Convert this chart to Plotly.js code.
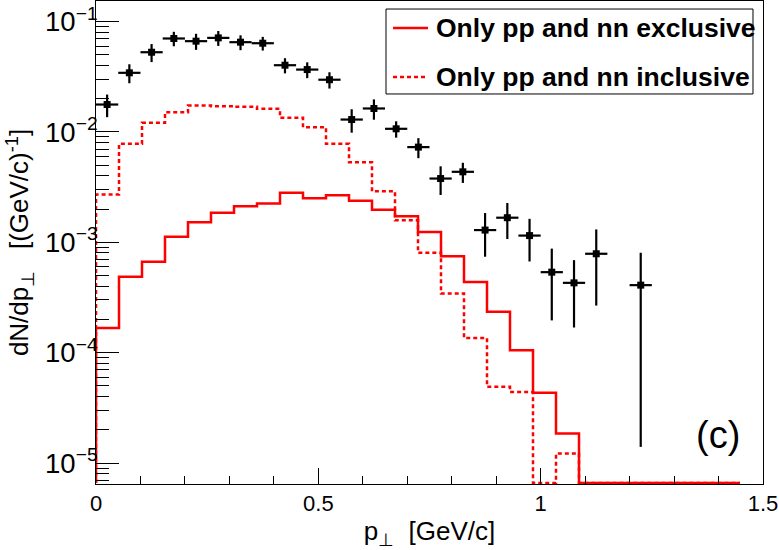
<!DOCTYPE html>
<html>
<head>
<meta charset="utf-8">
<script src="https://cdn.plot.ly/plotly-3.0.1.min.js"></script>
<style>
  body { margin: 0; background: #fff; }
  #chart { width: 779px; height: 550px; }
</style>
</head>
<body>
<div id="chart"></div>
<script>
// data points (0.05 GeV/c bins)
var ptData = [0.025, 0.075, 0.125, 0.175, 0.225, 0.275, 0.325, 0.375, 0.425, 0.475,
    0.525, 0.575, 0.625, 0.675, 0.725, 0.775, 0.825, 0.875, 0.925, 0.975,
    1.025, 1.075, 1.125, 1.225]
var dataVal = [0.0177, 0.0343, 0.0527, 0.0702, 0.0664, 0.0711, 0.0650, 0.0636, 0.0402, 0.0367,
    0.0297, 0.01294, 0.0163, 0.01067, 0.00728, 0.00378, 0.00435, 0.00129, 0.00167, 0.00115,
    0.000536, 0.000429, 0.000787, 0.000409]
var dataErr = [0.0041, 0.0067, 0.0098, 0.0105, 0.011, 0.011, 0.010, 0.009, 0.0063, 0.006,
    0.005, 0.0031, 0.0034, 0.0018, 0.0015, 0.0011, 0.0009, 0.00055, 0.0006, 0.00048,
    0.00034, 0.00026, 0.00052, 0.000395]
var ptHalfBin = 0.025

// simulation histograms: 28 drawn bins of width 1.5/29
var nBins = 28
var binWidth = 1.5 / 29
var exclusive = [0.000167, 0.000486, 0.000666, 0.00112, 0.00152, 0.00185, 0.00212, 0.00225,
    0.00281, 0.00251, 0.00267, 0.00238, 0.00197, 0.00172, 0.00124, 0.000748,
    0.000436, 0.000235, 0.000105, 0.0000433, 0.0000185, 0, 0, 0, 0, 0, 0, 0]
var inclusive = [0.00271, 0.0078, 0.01208, 0.0151, 0.01734, 0.0171, 0.01687, 0.0162,
    0.01343, 0.01104, 0.0078, 0.00532, 0.0029, 0.00158, 0.000803, 0.000344,
    0.000136, 0.000049, 0.000044, 0, 0.0000122, 0, 0, 0, 0, 0, 0, 0]

var legendNames = ['Only pp and nn exclusive', 'Only pp and nn inclusive']
var yRange = [-5.19, -0.814]

function stepTrace(vals, dash, name) {
    // empty bins sit on the frame bottom, like ROOT does on a log pad
    var floor = Math.pow(10, yRange[0] + 0.01)
    var xs = [0], ys = [floor]
    for (var i = 0; i < nBins; i++) {
        xs.push(i * binWidth)
        ys.push(vals[i] > 0 ? vals[i] : floor)
    }
    xs.push(nBins * binWidth)
    ys.push(vals[nBins - 1] > 0 ? vals[nBins - 1] : floor)
    return {
        x: xs, y: ys, type: 'scatter', mode: 'lines', name: name, showlegend: false,
        line: { shape: 'hv', color: '#ff0000', width: 2.5, dash: dash }
    }
}

var dashes = ['solid', '4px,3px']

var traces = [
    {
        x: ptData, y: dataVal, type: 'scatter', mode: 'markers', showlegend: false,
        marker: { color: '#000', size: 7, symbol: 'square' },
        error_y: { type: 'data', array: dataErr, color: '#000', thickness: 2.2, width: 0 },
        error_x: { type: 'constant', value: ptHalfBin, color: '#000', thickness: 2.2, width: 0 }
    },
    stepTrace(exclusive, dashes[0], legendNames[0]),
    stepTrace(inclusive, dashes[1], legendNames[1])
]

// hand-drawn legend box (TLegend look)
var shapes = [
    { type: 'rect', xref: 'paper', yref: 'paper', x0: 0.4348, x1: 0.985, y0: 0.8075, y1: 0.9834,
      line: { color: '#000', width: 1 }, fillcolor: '#fff', layer: 'above' }
]
var annotations = []
var rowY = [0.9441, 0.8427]
for (var k = 0; k < legendNames.length; k++) {
    shapes.push({ type: 'line', xref: 'paper', yref: 'paper', x0: 0.4453, x1: 0.4978, y0: rowY[k], y1: rowY[k],
        line: { color: '#ff0000', width: 2.5, dash: dashes[k] }, layer: 'above' })
    annotations.push({ text: legendNames[k], xref: 'paper', yref: 'paper', x: 0.506, y: rowY[k],
        xanchor: 'left', yanchor: 'middle', showarrow: false,
        font: { size: 26.5, weight: 'bold', color: '#000' } })
}
annotations.push({ text: '(c)', xref: 'paper', yref: 'paper', x: 0.933, y: 0.102, xanchor: 'center', yanchor: 'middle',
    showarrow: false, font: { size: 38, color: '#000' } })

var layout = {
    width: 779, height: 550,
    margin: { l: 96, r: 16, t: 1, b: 66 },
    paper_bgcolor: '#fff', plot_bgcolor: '#fff',
    font: { family: 'Liberation Sans, Arial, sans-serif', color: '#000' },
    showlegend: false,
    xaxis: {
        range: [0, 1.5], dtick: 0.5, tick0: 0,
        ticks: 'inside', ticklen: 16, tickwidth: 1, tickcolor: '#000',
        minor: { dtick: 0.1, ticks: 'inside', ticklen: 8, tickwidth: 1, tickcolor: '#000' },
        showline: true, linecolor: '#000', linewidth: 1, mirror: true,
        showgrid: false, zeroline: false,
        tickfont: { size: 22 },
        title: { text: 'p<sub>⊥</sub>  [GeV/c]', font: { size: 26 }, standoff: 6 }
    },
    yaxis: {
        type: 'log', range: yRange, dtick: 1,
        exponentformat: 'power',
        ticks: 'inside', ticklen: 23, tickwidth: 1, tickcolor: '#000',
        minor: { dtick: 'D1', ticks: 'inside', ticklen: 13, tickwidth: 1, tickcolor: '#000' },
        showline: true, linecolor: '#000', linewidth: 1, mirror: true,
        showgrid: false, zeroline: false,
        tickfont: { size: 22 },
        ticklabelstandoff: -7,
        title: { text: 'dN/dp<sub>⊥</sub>   [(GeV/c)<sup>-1</sup>]', font: { size: 26 }, standoff: 8 }
    },
    shapes: shapes,
    annotations: annotations
}

Plotly.newPlot('chart', traces, layout, { staticPlot: true })
</script>
</body>
</html>
